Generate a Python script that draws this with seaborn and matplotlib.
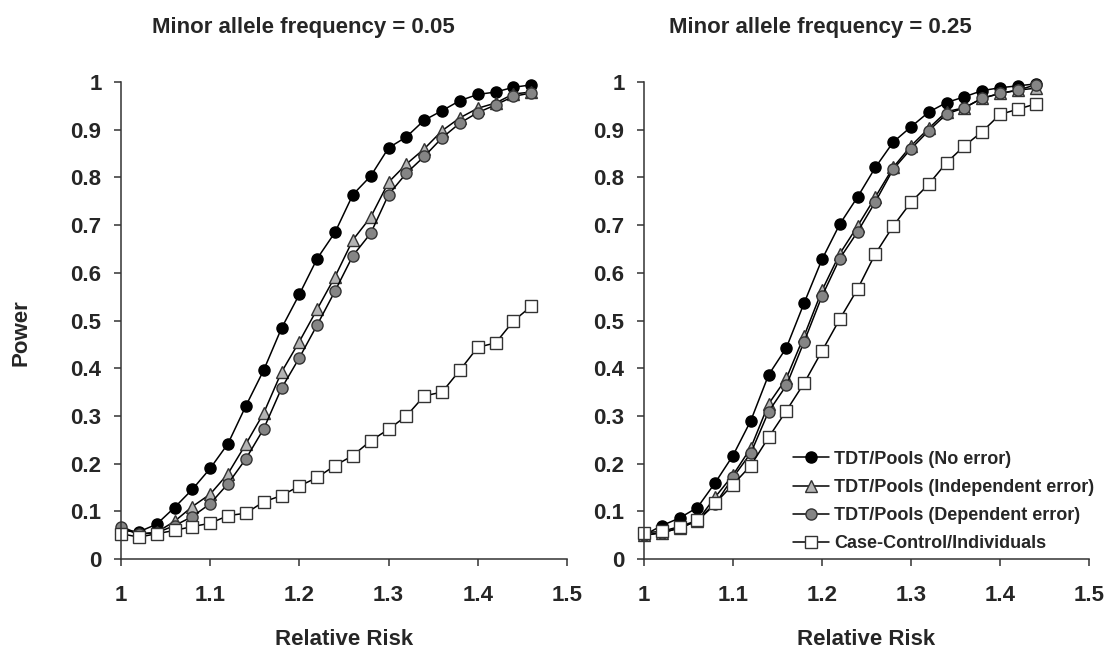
import numpy as np
import pandas as pd
import matplotlib
matplotlib.use('Agg')
import matplotlib.pyplot as plt
import seaborn as sns

# relative risk grid for each panel
rr_005 = [1.00, 1.02, 1.04, 1.06, 1.08, 1.10, 1.12, 1.14, 1.16, 1.18, 1.20, 1.22,
          1.24, 1.26, 1.28, 1.30, 1.32, 1.34, 1.36, 1.38, 1.40, 1.42, 1.44, 1.46]
rr_025 = [1.00, 1.02, 1.04, 1.06, 1.08, 1.10, 1.12, 1.14, 1.16, 1.18, 1.20, 1.22,
          1.24, 1.26, 1.28, 1.30, 1.32, 1.34, 1.36, 1.38, 1.40, 1.42, 1.44]

# MAF = 0.05
no_err_005 = [0.060, 0.057, 0.073, 0.108, 0.146, 0.190, 0.242, 0.321, 0.396, 0.484, 0.555, 0.630,
              0.685, 0.764, 0.803, 0.862, 0.885, 0.920, 0.940, 0.961, 0.974, 0.979, 0.989, 0.994]
indep_005 = [0.065, 0.052, 0.056, 0.079, 0.110, 0.136, 0.179, 0.241, 0.306, 0.392, 0.456, 0.524,
             0.592, 0.669, 0.717, 0.790, 0.828, 0.860, 0.898, 0.925, 0.945, 0.956, 0.975, 0.979]
dep_005 = [0.068, 0.053, 0.055, 0.070, 0.089, 0.116, 0.158, 0.210, 0.273, 0.358, 0.422, 0.491,
           0.562, 0.636, 0.683, 0.764, 0.809, 0.844, 0.883, 0.914, 0.936, 0.952, 0.970, 0.977]
cc_005 = [0.053, 0.046, 0.053, 0.060, 0.068, 0.075, 0.091, 0.096, 0.120, 0.133, 0.153, 0.171,
          0.196, 0.217, 0.248, 0.272, 0.300, 0.342, 0.350, 0.396, 0.444, 0.453, 0.499, 0.530]

# MAF = 0.25
no_err_025 = [0.050, 0.070, 0.086, 0.108, 0.160, 0.217, 0.290, 0.386, 0.443, 0.537, 0.628, 0.702,
              0.759, 0.821, 0.874, 0.906, 0.937, 0.957, 0.969, 0.982, 0.988, 0.992, 0.996]
indep_025 = [0.050, 0.055, 0.065, 0.080, 0.130, 0.176, 0.233, 0.325, 0.379, 0.468, 0.563, 0.640,
             0.698, 0.759, 0.821, 0.866, 0.903, 0.938, 0.946, 0.966, 0.976, 0.983, 0.987]
dep_025 = [0.050, 0.055, 0.065, 0.080, 0.115, 0.171, 0.222, 0.309, 0.364, 0.456, 0.551, 0.630,
           0.686, 0.749, 0.817, 0.860, 0.898, 0.933, 0.946, 0.966, 0.976, 0.983, 0.994]
cc_025 = [0.055, 0.058, 0.068, 0.081, 0.117, 0.156, 0.196, 0.255, 0.311, 0.369, 0.436, 0.503,
          0.566, 0.640, 0.698, 0.748, 0.786, 0.831, 0.866, 0.896, 0.932, 0.943, 0.954]

labels = ['TDT/Pools (No error)', 'TDT/Pools (Independent error)',
          'TDT/Pools (Dependent error)', 'Case-Control/Individuals']
titles = ['Minor allele frequency = 0.05', 'Minor allele frequency = 0.25']

sns.set_style('ticks')
plt.rcParams['font.family'] = ['Liberation Sans', 'DejaVu Sans']
plt.rcParams['font.weight'] = 'bold'

styles = [
    dict(marker='o', markerfacecolor='black', markeredgecolor='black'),
    dict(marker='^', markerfacecolor='#b4b4b4', markeredgecolor='#333333'),
    dict(marker='o', markerfacecolor='#858585', markeredgecolor='#333333'),
    dict(marker='s', markerfacecolor='white', markeredgecolor='#333333'),
]

fig = plt.figure(figsize=(11.05, 6.52), dpi=100)
ax1 = fig.add_axes([0.1095, 0.1426, 0.4036, 0.7316])
ax2 = fig.add_axes([0.5828, 0.1426, 0.4027, 0.7316])

panels = [(ax1, rr_005, [no_err_005, indep_005, dep_005, cc_005]),
          (ax2, rr_025, [no_err_025, indep_025, dep_025, cc_025])]

handles = []
for ax, rr, series in panels:
    for i, vals in enumerate(series):
        df = pd.DataFrame({'rr': rr, 'power': vals})
        sns.lineplot(data=df, x='rr', y='power', ax=ax, color='black', linewidth=1.1,
                     markersize=8, markeredgewidth=1.0, errorbar=None, legend=False,
                     clip_on=False, **styles[i])
        if ax is ax2:
            handles.append(ax.lines[-1])

    ax.set_xlim(1, 1.5)
    ax.set_ylim(0, 1)
    ax.set_xticks(np.arange(1.0, 1.51, 0.1))
    ax.set_xticklabels(['1', '1.1', '1.2', '1.3', '1.4', '1.5'])
    ax.set_yticks(np.arange(0, 1.01, 0.1))
    ax.set_yticklabels(['0'] + [f'{v:.1f}' for v in np.arange(0.1, 0.95, 0.1)] + ['1'])
    ax.tick_params(axis='both', labelsize=16, length=5, width=1.1, color='#333333')
    ax.tick_params(axis='y', pad=9)
    ax.tick_params(axis='x', pad=14)
    for lab in ax.get_xticklabels() + ax.get_yticklabels():
        lab.set_fontweight('bold')
    sns.despine(ax=ax)
    for s in ['left', 'bottom']:
        ax.spines[s].set_linewidth(1.1)
        ax.spines[s].set_color('#333333')
    ax.set_xlabel('Relative Risk', fontsize=16, fontweight='bold', labelpad=16)
    ax.set_ylabel('')

fig.text(0.019, 0.49, 'Power', rotation=90, ha='center', va='center',
         fontsize=16, fontweight='bold')
fig.text(0.275, 0.958, titles[0], ha='center', va='center', fontsize=16, fontweight='bold')
fig.text(0.742, 0.958, titles[1], ha='center', va='center', fontsize=16, fontweight='bold')

ax2.legend(handles, labels, loc='lower left', bbox_to_anchor=(0.7176, 0.153),
           bbox_transform=fig.transFigure, frameon=False, borderpad=0, borderaxespad=0,
           handlelength=2.0, handletextpad=0.3, labelspacing=0.62,
           prop={'size': 13, 'weight': 'bold'})

fig.savefig('out.png', dpi=100)
